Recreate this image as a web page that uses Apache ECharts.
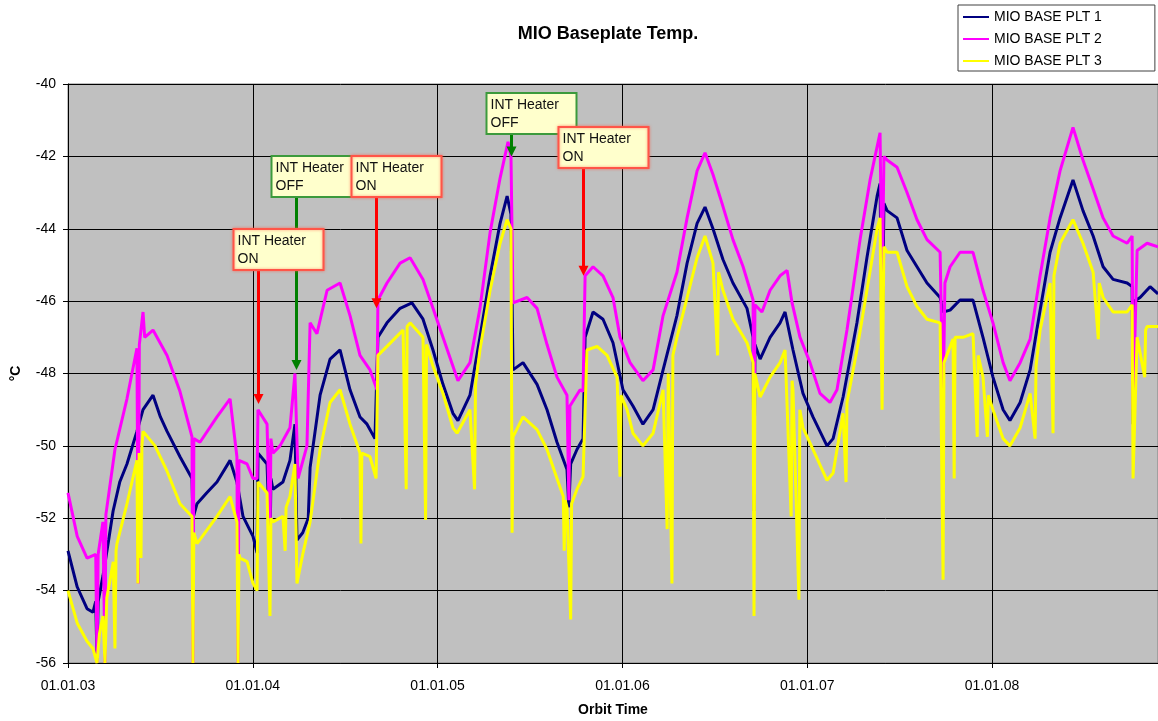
<!DOCTYPE html>
<html>
<head>
<meta charset="utf-8">
<script src="https://cdn.jsdelivr.net/npm/echarts@6/dist/echarts.min.js"></script>
<style>
  html, body { margin: 0; padding: 0; background: #fff; overflow: hidden; }
  #main { width: 1158px; height: 721px; }
</style>
</head>
<body>
<div id="main"></div>
<script>
// time is in years since 01.01.03, temperatures in degC
var START_YEAR = 2003;
var X_END = 5.898;
var yTicks = { min: -56, max: -40, step: 2 };
var seriesNames = ['MIO BASE PLT 1', 'MIO BASE PLT 2', 'MIO BASE PLT 3'];
var seriesColors = ['#000080', '#FF00FF', '#FFFF00'];

var plt1 = [
  [0.000,-52.9],[0.050,-53.9],[0.103,-54.5],[0.135,-54.6],[0.150,-54.3],[0.157,-55.9],[0.163,-54.3],
  [0.189,-53.6],[0.220,-52.6],[0.244,-51.8],[0.280,-51.0],[0.319,-50.5],[0.373,-49.6],[0.406,-49.0],
  [0.460,-48.6],[0.500,-49.2],[0.536,-49.6],[0.606,-50.3],[0.671,-50.9],[0.676,-52.0],[0.698,-51.6],
  [0.750,-51.3],[0.806,-51.0],[0.877,-50.4],[0.914,-51.0],[0.947,-51.95],[1.001,-52.5],[1.023,-52.96],
  [1.028,-50.2],[1.077,-50.5],[1.093,-52.9],[1.098,-50.9],[1.109,-51.2],[1.163,-51.0],[1.201,-50.4],
  [1.228,-49.4],[1.239,-52.6],[1.270,-52.4],[1.300,-52.0],[1.310,-50.6],[1.364,-48.6],[1.418,-47.6],
  [1.472,-47.35],[1.526,-48.45],[1.580,-49.2],[1.618,-49.4],[1.661,-49.8],[1.677,-47.0],[1.726,-46.6],
  [1.797,-46.2],[1.861,-46.05],[1.921,-46.5],[1.975,-47.35],[2.029,-48.3],[2.083,-49.1],[2.110,-49.3],
  [2.175,-48.6],[2.229,-47.0],[2.284,-45.3],[2.338,-43.85],[2.376,-43.1],[2.397,-43.6],[2.408,-47.9],
  [2.462,-47.7],[2.538,-48.3],[2.592,-49.0],[2.646,-49.9],[2.700,-50.65],[2.710,-51.7],[2.720,-50.5],
  [2.754,-50.1],[2.787,-49.8],[2.798,-47.0],[2.841,-46.3],[2.895,-46.5],[2.949,-47.15],[3.003,-48.45],
  [3.057,-48.9],[3.111,-49.4],[3.166,-49.0],[3.220,-47.9],[3.295,-46.4],[3.350,-44.95],[3.404,-43.85],
  [3.447,-43.4],[3.490,-44.0],[3.544,-44.85],[3.598,-45.5],[3.674,-46.2],[3.707,-47.0],[3.712,-51.8],
  [3.717,-47.2],[3.745,-47.6],[3.799,-47.0],[3.853,-46.6],[3.880,-46.3],[3.923,-47.35],[3.977,-48.55],
  [4.031,-49.2],[4.107,-50.0],[4.140,-49.8],[4.194,-48.65],[4.269,-46.6],[4.323,-44.8],[4.378,-43.1],
  [4.394,-42.75],[4.405,-47.3],[4.415,-43.3],[4.432,-43.5],[4.486,-43.7],[4.540,-44.6],[4.594,-45.05],
  [4.648,-45.5],[4.719,-45.9],[4.735,-46.3],[4.773,-46.25],[4.827,-45.97],[4.897,-45.97],[4.951,-47.0],
  [5.005,-48.1],[5.060,-49.0],[5.097,-49.3],[5.152,-48.8],[5.206,-47.9],[5.260,-46.25],[5.314,-44.65],
  [5.368,-43.7],[5.438,-42.65],[5.492,-43.5],[5.547,-44.2],[5.601,-45.05],[5.655,-45.4],[5.731,-45.5],
  [5.758,-45.6],[5.763,-49.4],[5.770,-46.0],[5.801,-45.9],[5.855,-45.6],[5.898,-45.8]
];

var plt2 = [
  [0.000,-51.3],[0.050,-52.5],[0.103,-53.1],[0.150,-53.0],[0.157,-56.0],[0.163,-53.0],[0.189,-52.1],
  [0.200,-56.0],[0.205,-51.9],[0.254,-50.1],[0.319,-48.7],[0.373,-47.3],[0.380,-53.8],[0.386,-47.2],
  [0.406,-46.3],[0.415,-47.0],[0.460,-46.8],[0.536,-47.5],[0.606,-48.5],[0.671,-49.75],[0.676,-56.0],
  [0.681,-49.8],[0.714,-49.9],[0.806,-49.2],[0.877,-48.7],[0.914,-50.3],[0.920,-56.0],[0.925,-50.4],
  [0.969,-50.5],[1.001,-50.9],[1.023,-50.9],[1.028,-49.0],[1.077,-49.4],[1.093,-52.6],[1.098,-49.8],
  [1.109,-50.2],[1.147,-50.0],[1.201,-49.5],[1.228,-48.0],[1.245,-50.9],[1.293,-50.0],[1.310,-46.6],
  [1.347,-46.9],[1.402,-45.7],[1.472,-45.5],[1.526,-46.4],[1.580,-47.5],[1.634,-47.9],[1.672,-48.45],
  [1.677,-45.97],[1.726,-45.5],[1.797,-44.95],[1.851,-44.8],[1.921,-45.4],[1.975,-46.2],[2.029,-47.0],
  [2.083,-47.8],[2.110,-48.2],[2.175,-47.7],[2.229,-46.2],[2.284,-44.1],[2.338,-42.6],[2.381,-41.6],
  [2.397,-42.0],[2.408,-46.05],[2.484,-45.9],[2.538,-46.2],[2.592,-47.2],[2.646,-48.1],[2.700,-48.6],
  [2.710,-51.5],[2.716,-48.9],[2.771,-48.45],[2.787,-48.5],[2.798,-45.3],[2.841,-45.05],[2.895,-45.3],
  [2.949,-45.9],[2.987,-47.0],[3.041,-47.7],[3.111,-48.2],[3.166,-47.9],[3.220,-46.4],[3.295,-45.2],
  [3.350,-43.7],[3.404,-42.4],[3.447,-41.9],[3.490,-42.5],[3.539,-43.3],[3.598,-44.3],[3.653,-45.05],
  [3.707,-45.97],[3.712,-51.5],[3.717,-46.1],[3.755,-46.3],[3.799,-45.7],[3.853,-45.3],[3.891,-45.15],
  [3.918,-46.05],[3.961,-47.0],[4.015,-47.7],[4.069,-48.55],[4.123,-48.8],[4.161,-48.45],[4.215,-46.8],
  [4.286,-44.3],[4.340,-42.65],[4.394,-41.35],[4.405,-45.9],[4.415,-42.0],[4.432,-42.1],[4.486,-42.3],
  [4.540,-43.0],[4.594,-43.75],[4.648,-44.3],[4.719,-44.65],[4.735,-49.0],[4.745,-45.5],[4.773,-45.05],
  [4.827,-44.65],[4.897,-44.65],[4.951,-45.7],[5.005,-46.6],[5.060,-47.7],[5.097,-48.2],[5.152,-47.7],
  [5.206,-47.05],[5.260,-45.3],[5.314,-43.7],[5.368,-42.4],[5.438,-41.2],[5.492,-42.1],[5.547,-42.9],
  [5.601,-43.7],[5.655,-44.2],[5.731,-44.4],[5.758,-44.2],[5.763,-49.0],[5.785,-44.6],[5.839,-44.4],
  [5.898,-44.5]
];

var plt3 = [
  [0.000,-54.0],[0.050,-54.9],[0.103,-55.4],[0.135,-55.6],[0.157,-56.0],[0.170,-55.2],[0.189,-54.7],
  [0.200,-56.0],[0.210,-54.2],[0.245,-53.2],[0.254,-55.6],[0.260,-52.9],[0.265,-52.7],[0.319,-51.6],
  [0.373,-50.4],[0.378,-53.8],[0.385,-50.2],[0.395,-53.1],[0.400,-50.0],[0.406,-49.6],[0.471,-50.0],
  [0.536,-50.7],[0.606,-51.6],[0.671,-51.95],[0.676,-56.0],[0.681,-52.4],[0.698,-52.7],[0.806,-51.95],
  [0.877,-51.4],[0.914,-52.1],[0.920,-56.0],[0.925,-53.0],[0.931,-53.1],[0.969,-53.2],[1.001,-53.8],
  [1.023,-54.0],[1.028,-51.0],[1.077,-51.3],[1.093,-54.7],[1.098,-52.0],[1.109,-52.1],[1.163,-51.95],
  [1.175,-52.9],[1.180,-51.7],[1.201,-51.4],[1.228,-50.5],[1.239,-53.8],[1.270,-53.0],[1.310,-52.1],
  [1.364,-50.1],[1.418,-48.8],[1.472,-48.45],[1.526,-49.4],[1.580,-50.2],[1.585,-52.7],[1.590,-50.2],
  [1.634,-50.3],[1.667,-50.9],[1.677,-47.5],[1.726,-47.25],[1.813,-46.8],[1.830,-51.2],[1.835,-46.7],
  [1.851,-46.6],[1.921,-47.0],[1.935,-52.05],[1.940,-47.2],[1.975,-47.8],[2.029,-48.55],[2.083,-49.5],
  [2.105,-49.65],[2.175,-49.0],[2.200,-51.2],[2.205,-48.3],[2.229,-47.35],[2.284,-45.7],[2.338,-44.4],
  [2.376,-43.75],[2.397,-44.0],[2.403,-52.4],[2.408,-49.75],[2.462,-49.2],[2.538,-49.55],[2.592,-50.1],
  [2.646,-50.9],[2.680,-51.4],[2.685,-52.9],[2.690,-51.5],[2.700,-51.7],[2.720,-54.8],[2.725,-51.6],
  [2.754,-51.2],[2.787,-50.85],[2.808,-47.35],[2.863,-47.25],[2.917,-47.5],[2.971,-48.1],[2.987,-50.85],
  [2.992,-48.6],[3.025,-49.0],[3.057,-49.65],[3.111,-50.0],[3.166,-49.65],[3.220,-48.45],[3.242,-52.3],
  [3.248,-48.0],[3.268,-53.8],[3.273,-47.5],[3.295,-47.0],[3.350,-45.9],[3.404,-44.8],[3.447,-44.2],
  [3.490,-44.95],[3.515,-47.5],[3.520,-45.2],[3.544,-45.7],[3.598,-46.5],[3.674,-47.15],[3.707,-47.7],
  [3.712,-54.7],[3.717,-48.0],[3.745,-48.65],[3.799,-48.1],[3.853,-47.7],[3.880,-47.35],[3.913,-51.95],
  [3.918,-48.2],[3.923,-48.45],[3.955,-54.25],[3.960,-49.0],[3.977,-49.5],[4.031,-50.1],[4.107,-50.95],
  [4.140,-50.75],[4.194,-49.1],[4.210,-51.0],[4.215,-48.8],[4.269,-47.35],[4.323,-45.7],[4.378,-44.0],
  [4.394,-43.7],[4.405,-49.0],[4.415,-44.5],[4.432,-44.65],[4.486,-44.65],[4.540,-45.6],[4.594,-46.15],
  [4.648,-46.5],[4.719,-46.6],[4.735,-53.7],[4.740,-47.7],[4.789,-47.05],[4.795,-50.9],[4.800,-47.0],
  [4.843,-47.0],[4.897,-46.9],[4.920,-49.75],[4.925,-47.5],[4.951,-48.1],[4.975,-49.75],[4.980,-48.6],
  [5.005,-49.0],[5.060,-49.8],[5.097,-50.0],[5.152,-49.5],[5.206,-48.55],[5.233,-49.8],[5.238,-47.8],
  [5.260,-46.8],[5.314,-45.5],[5.330,-49.65],[5.335,-45.3],[5.368,-44.4],[5.438,-43.75],[5.492,-44.4],
  [5.547,-45.2],[5.575,-47.05],[5.580,-45.5],[5.601,-45.9],[5.655,-46.3],[5.731,-46.3],[5.758,-46.1],
  [5.763,-50.9],[5.785,-47.0],[5.826,-48.1],[5.831,-46.8],[5.839,-46.7],[5.898,-46.7]
];

// heater switching notes: arrow time, arrow tip value, box top value
var notes = [
  { t: 1.028, tip: -48.84, top: -44.0, text: 'INT Heater\nON',  on: true },
  { t: 1.234, tip: -47.9,  top: -42.0, text: 'INT Heater\nOFF', on: false },
  { t: 1.667, tip: -46.2,  top: -42.0, text: 'INT Heater\nON',  on: true },
  { t: 2.397, tip: -42.0,  top: -40.25, text: 'INT Heater\nOFF', on: false },
  { t: 2.787, tip: -45.3,  top: -41.2, text: 'INT Heater\nON',  on: true }
];

var FONT = '"Liberation Sans", Arial, sans-serif';
var myChart = echarts.init(document.getElementById('main'));

var allData = [plt1, plt2, plt3];
var series = allData.map(function (d, i) {
    return {
        name: seriesNames[i],
        type: 'line',
        data: d,
        showSymbol: false,
        symbol: 'none',
        lineStyle: { color: seriesColors[i], width: 3 },
        itemStyle: { color: seriesColors[i] },
        emphasis: { disabled: true },
        z: 2 + i
    };
});

var option = {
    animation: false,
    backgroundColor: '#fff',
    textStyle: { fontFamily: FONT },
    title: {
        text: 'MIO Baseplate Temp.',
        left: 603,
        textAlign: 'center',
        top: 20,
        textStyle: { fontFamily: FONT, fontSize: 18, fontWeight: 'bold', color: '#000' }
    },
    legend: {
        orient: 'vertical',
        left: 958,
        top: 5,
        icon: 'rect',
        itemWidth: 26,
        itemHeight: 2,
        itemGap: 8,
        padding: [5, 53, 3, 5],
        borderColor: '#404040',
        borderWidth: 1,
        backgroundColor: '#fff',
        textStyle: { fontFamily: FONT, fontSize: 14, color: '#000' },
        data: seriesNames
    },
    grid: {
        left: 68, top: 84, right: 0, bottom: 58,
        outerBoundsMode: 'none',
        containLabel: false,
        show: true,
        backgroundColor: '#C0C0C0',
        borderColor: '#808080',
        borderWidth: 1
    },
    xAxis: {
        type: 'value',
        min: 0,
        max: X_END,
        interval: 1,
        name: 'Orbit Time',
        nameLocation: 'middle',
        nameGap: 40,
        nameTextStyle: { fontFamily: FONT, fontSize: 14, fontWeight: 'bold', color: '#000' },
        axisLine: { lineStyle: { color: '#000', width: 1 } },
        axisTick: { length: 5, lineStyle: { color: '#000' } },
        axisLabel: {
            fontFamily: FONT, fontSize: 14, color: '#000', margin: 16,
            formatter: function (v) {
                if (Math.abs(v - Math.round(v)) > 1e-6) return '';
                return '01.01.' + String(START_YEAR + Math.round(v)).slice(2);
            }
        },
        splitLine: { show: true, lineStyle: { color: '#000', width: 1 } }
    },
    yAxis: {
        type: 'value',
        min: yTicks.min,
        max: yTicks.max,
        interval: yTicks.step,
        name: '°C',
        nameLocation: 'middle',
        nameRotate: 90,
        nameGap: 45,
        nameTextStyle: { fontFamily: FONT, fontSize: 14, fontWeight: 'bold', color: '#000' },
        axisLine: { show: true, lineStyle: { color: '#000', width: 1 } },
        axisTick: { show: true, length: 5, lineStyle: { color: '#000' } },
        axisLabel: { fontFamily: FONT, fontSize: 14, color: '#000', margin: 12 },
        splitLine: { show: true, lineStyle: { color: '#000', width: 1 } }
    },
    series: series
};

myChart.setOption(option);

// annotation boxes with arrows, placed through the grid's scales
function drawNotes() {
    var els = [];
    notes.forEach(function (n) {
        var tip = myChart.convertToPixel({ gridIndex: 0 }, [n.t, n.tip]);
        var top = myChart.convertToPixel({ gridIndex: 0 }, [n.t, n.top]);
        var ax = Math.round(tip[0]) + 0.5;
        var boxL = ax - 25, boxT = Math.round(top[1]), boxW = 90, boxH = 41;
        var border = n.on ? '#FF5548' : '#3C9A3C';
        var arrow = n.on ? '#FF0000' : '#008000';
        els.push({
            type: 'line', z: 100,
            shape: { x1: ax, y1: boxT + boxH, x2: ax, y2: tip[1] - 8 },
            style: { stroke: arrow, lineWidth: 3 }
        });
        els.push({
            type: 'polygon', z: 100,
            shape: { points: [[ax - 5, tip[1] - 10], [ax + 5, tip[1] - 10], [ax, tip[1]]] },
            style: { fill: arrow }
        });
        els.push({
            type: 'rect', z: 101,
            shape: { x: boxL, y: boxT, width: boxW, height: boxH },
            style: { fill: '#FFFFCC', stroke: border, lineWidth: 2,
                     shadowBlur: n.on ? 3 : 0, shadowColor: 'rgba(255,90,70,0.6)' }
        });
        els.push({
            type: 'text', z: 102,
            x: boxL + 4, y: boxT + 3,
            style: { text: n.text, font: '14px ' + FONT, fill: '#111', lineHeight: 18 }
        });
    });
    myChart.setOption({ graphic: els });
}
drawNotes();
</script>
</body>
</html>
